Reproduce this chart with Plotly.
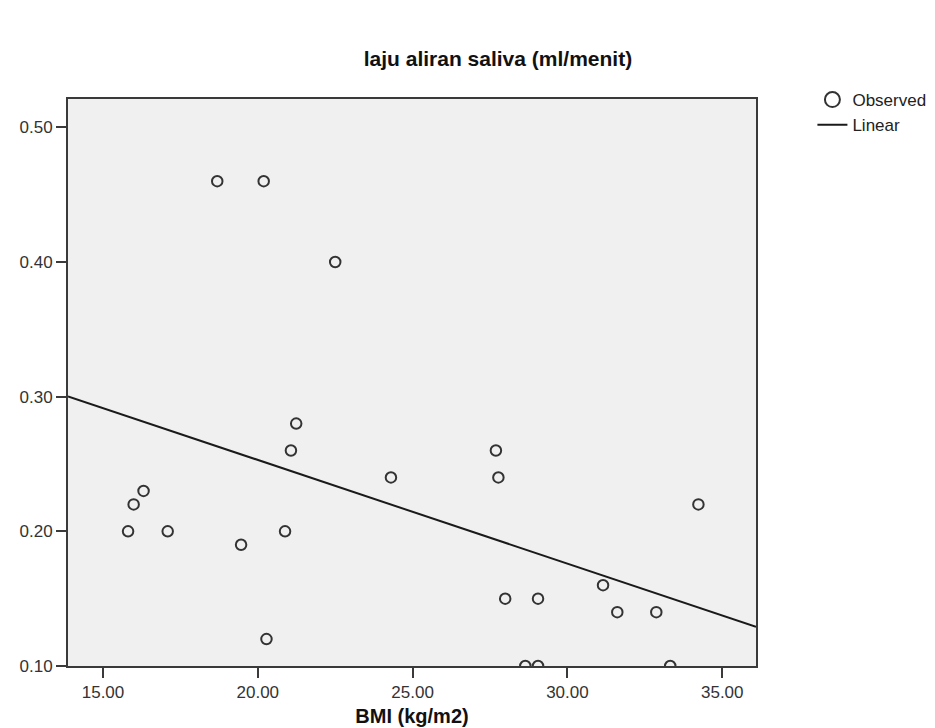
import plotly.graph_objects as go

# Data
bmi = [18.69, 20.19, 22.50, 34.23, 21.24, 21.07, 16.31, 15.99, 15.81, 17.09,
       19.46, 20.88, 20.28, 27.69, 27.77, 27.99, 29.05, 31.15, 31.61, 32.87,
       28.64, 29.05, 33.32, 24.30]
saliva = [0.46, 0.46, 0.40, 0.22, 0.28, 0.26, 0.23, 0.22, 0.20, 0.20,
          0.19, 0.20, 0.12, 0.26, 0.24, 0.15, 0.15, 0.16, 0.14, 0.14,
          0.10, 0.10, 0.10, 0.24]

# Linear fit as drawn in the reference
fit_intercept = 0.407
fit_slope = -0.0077

x_range = [13.87, 36.09]
y_range = [0.10, 0.521]
x_ticks = [15, 20, 25, 30, 35]
y_ticks = [0.10, 0.20, 0.30, 0.40, 0.50]

line_x = x_range
line_y = [fit_intercept + fit_slope * v for v in line_x]

FONT = "Liberation Sans, Arial, sans-serif"

fig = go.Figure()
fig.add_trace(go.Scatter(
    x=bmi, y=saliva, mode="markers", name="Observed", showlegend=False,
    marker=dict(symbol="circle-open", size=10.5, color="#333333",
                line=dict(width=2, color="#333333")),
))
# legend entry for the observed points (larger symbol as in the reference)
fig.add_trace(go.Scatter(
    x=[None], y=[None], mode="markers", name="Observed",
    marker=dict(symbol="circle-open", size=15, color="#333333",
                line=dict(width=2, color="#333333")),
))
fig.add_trace(go.Scatter(
    x=line_x, y=line_y, mode="lines", name="Linear",
    line=dict(color="#1a1a1a", width=2),
))

axis_common = dict(
    showline=True, linecolor="#3a3a3a", linewidth=2, mirror=True,
    ticks="outside", ticklen=10, tickwidth=2, tickcolor="#3a3a3a",
    showgrid=False, zeroline=False,
    tickfont=dict(family=FONT, size=17, color="#333333"),
    tickformat=".2f",
)

fig.update_layout(
    width=935, height=728,
    margin=dict(l=60, r=183, t=91, b=66),
    paper_bgcolor="white",
    plot_bgcolor="#F0F0F0",
    font=dict(family=FONT, color="#111111"),
    title=dict(text="<b>laju aliran saliva (ml/menit)</b>",
               x=0.524, xanchor="center", y=0.931, yanchor="middle",
               font=dict(size=21, color="#111111")),
    xaxis=dict(range=x_range, tickvals=x_ticks,
               title=dict(text="<b>BMI (kg/m2)</b>", standoff=8,
                          font=dict(size=20, color="#111111")),
               **axis_common),
    yaxis=dict(range=y_range, tickvals=y_ticks, **axis_common),
    showlegend=True,
    legend=dict(x=1.082, y=1.03, xanchor="left", yanchor="top",
                font=dict(family=FONT, size=17, color="#222222"),
                bgcolor="rgba(0,0,0,0)", tracegroupgap=0,
                itemsizing="trace"),
)

fig.write_html("out.html")
